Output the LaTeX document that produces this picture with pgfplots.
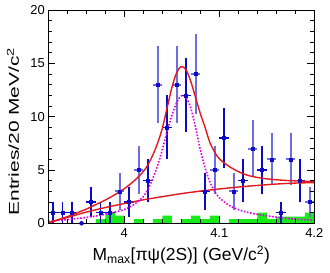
\documentclass[border=0pt]{standalone}
\usepackage{fontspec}
\setmainfont{Liberation Sans}
\usepackage{pgfplots}
\usepackage{graphicx}
\pgfplotsset{compat=1.18}
\definecolor{dkblue}{RGB}{10,10,200}
\definecolor{ltblue}{RGB}{110,110,225}
\definecolor{fitred}{RGB}{225,25,30}
\definecolor{sigmag}{RGB}{225,0,225}
\definecolor{hgreen}{RGB}{25,235,25}
\begin{document}
\begin{tikzpicture}
\path[use as bounding box] (-48.3bp,-49.7bp) rectangle (281.7bp,223.3bp);
\begin{axis}[
  at={(0,0)}, anchor=south west,
  scale only axis, width=266bp, height=213.3bp,
  xmin=3.92, xmax=4.2, ymin=0, ymax=20,
  xtick={4,4.1,4.2}, xticklabels={4,4.1,4.2},
  minor xtick={3.94,3.96,3.98,4.02,4.04,4.06,4.08,4.12,4.14,4.16,4.18},
  ytick={0,5,10,15,20},
  minor ytick={1,2,3,4,6,7,8,9,11,12,13,14,16,17,18,19},
  tick pos=both, tick align=inside,
  major tick length=7bp, minor tick length=4bp,
  every tick/.style={black, line width=0.6pt},
  axis line style={line width=0.8pt},
  axis on top,
  /pgf/number format/assume math mode=true,
  every tick label/.append style={font=\fontsize{13}{13}\selectfont},
  xticklabel style={yshift=-2bp},
  xlabel={M\textsubscript{max}[πψ(2S)] (GeV/c\textsuperscript{2})},
  xlabel style={at={(axis description cs:0.5,-0.1753)}, anchor=base, font=\fontsize{17.5}{18}\selectfont},
  ylabel={\scalebox{1}[0.68]{Entries/20 MeV/c\textsuperscript{2}}},
  ylabel style={at={(axis description cs:-0.1102,0.43)}, anchor=base, font=\fontsize{21}{22}\selectfont},
]
% green histogram
\addplot[const plot, fill=hgreen, draw=none] coordinates {
(3.97,0.4) (3.98,1.0) (3.99,0.72) (4.00,0) (4.01,0.4) (4.02,0) (4.03,0.4) (4.04,0.72) (4.05,0) (4.06,0.4) (4.07,0.72) (4.08,0.4) (4.09,0.72) (4.10,0) (4.11,0.4) (4.14,1.0) (4.15,0.4) (4.16,0.62) (4.19,1.0) (4.2,1.0)
} \closedcycle;
% light data series
\addplot[only marks, mark=square*, mark size=1.4bp, color=ltblue, mark options={dkblue},
  error bars/.cd, x dir=both, x explicit, y dir=both, y explicit,
  error mark=none, error bar style={line width=2bp, ltblue}]
  table[x=x, y=y, x error=ex, y error=ey] {
x y ex ey
3.995 3 0.005 1.732
4.015 5 0.005 2.236
4.035 13 0.005 3.606
4.055 13 0.005 3.606
4.075 14 0.005 3.742
4.095 5 0.005 2.236
4.115 3 0.005 1.732
4.135 7 0.005 2.646
4.155 6 0.005 2.449
4.175 6 0.005 2.449
4.195 2 0.005 1.414
};
% dark data series
\addplot[only marks, mark=square*, mark size=1.4bp, color=dkblue,
  error bars/.cd, x dir=both, x explicit, y dir=both, y explicit,
  error mark=none, error bar style={line width=1.2bp, dkblue}]
  table[x=x, y=y, x error=ex, y error=ey] {
x y ex ey
3.925 1 0.005 1
3.935 1 0.005 1
3.945 1 0.005 1
3.965 2 0.005 1.414
3.975 1 0.005 1
3.985 1 0.005 1
4.005 2 0.005 1.414
4.025 4 0.005 2
4.045 9 0.005 3
4.065 12 0.005 3.464
4.085 3 0.005 1.732
4.105 8 0.005 2.828
4.125 4 0.005 2
4.145 5 0.005 2.236
4.165 1 0.005 1
4.185 4 0.005 2
};
\addplot[only marks, mark=none, color=dkblue,
  error bars/.cd, x dir=both, x explicit,
  error mark=none, error bar style={line width=1.2bp, dkblue}]
  table[x=x, y=y, x error=ex] {
x y ex
3.955 0 0.005
};
% background
\addplot[smooth, color=fitred, line width=1.4pt] coordinates {
(3.92,0.05) (3.93,0.3) (3.94,0.55) (3.95,0.8) (3.96,1.05) (3.97,1.27) (3.98,1.48) (3.99,1.67) (4.00,1.85) (4.02,2.2) (4.04,2.5) (4.06,2.78) (4.08,3.02) (4.10,3.22) (4.12,3.4) (4.14,3.55) (4.16,3.68) (4.18,3.77) (4.20,3.82)
};
% signal
\addplot[smooth, color=sigmag, line width=1.6pt, dash pattern=on 1.6bp off 1.6bp] coordinates {
(3.92,0.2) (3.93,0.27) (3.94,0.35) (3.95,0.44) (3.96,0.55) (3.97,0.68) (3.98,0.85) (3.99,1.05) (4.00,1.3) (4.01,1.75) (4.02,2.5) (4.025,3.2) (4.03,4.2) (4.035,5.4) (4.04,6.9) (4.045,8.6) (4.05,10.1) (4.055,11.3) (4.06,11.95) (4.065,11.8) (4.07,10.8) (4.075,9.0) (4.08,6.9) (4.085,5.2) (4.09,3.9) (4.095,3.0) (4.10,2.4) (4.11,1.7) (4.12,1.28) (4.13,1.02) (4.14,0.84) (4.15,0.7) (4.16,0.58) (4.17,0.48) (4.18,0.4) (4.19,0.34) (4.2,0.28)
};
% total
\addplot[smooth, color=fitred, line width=1.4pt] coordinates {
(3.92,0.05) (3.93,0.33) (3.94,0.62) (3.95,0.97) (3.96,1.33) (3.97,1.75) (3.98,2.18) (3.99,2.68) (4.00,3.25) (4.01,3.95) (4.02,4.85) (4.025,5.5) (4.03,6.4) (4.035,7.5) (4.04,8.9) (4.045,10.8) (4.05,12.7) (4.055,14.1) (4.06,14.7) (4.065,14.4) (4.07,13.3) (4.075,11.8) (4.08,10.3) (4.085,9.0) (4.09,7.6) (4.095,6.7) (4.10,6.05) (4.11,5.35) (4.12,4.85) (4.13,4.5) (4.14,4.3) (4.15,4.17) (4.16,4.08) (4.17,4.02) (4.18,3.98) (4.19,3.94) (4.20,3.9)
};
\end{axis}
\end{tikzpicture}
\end{document}
